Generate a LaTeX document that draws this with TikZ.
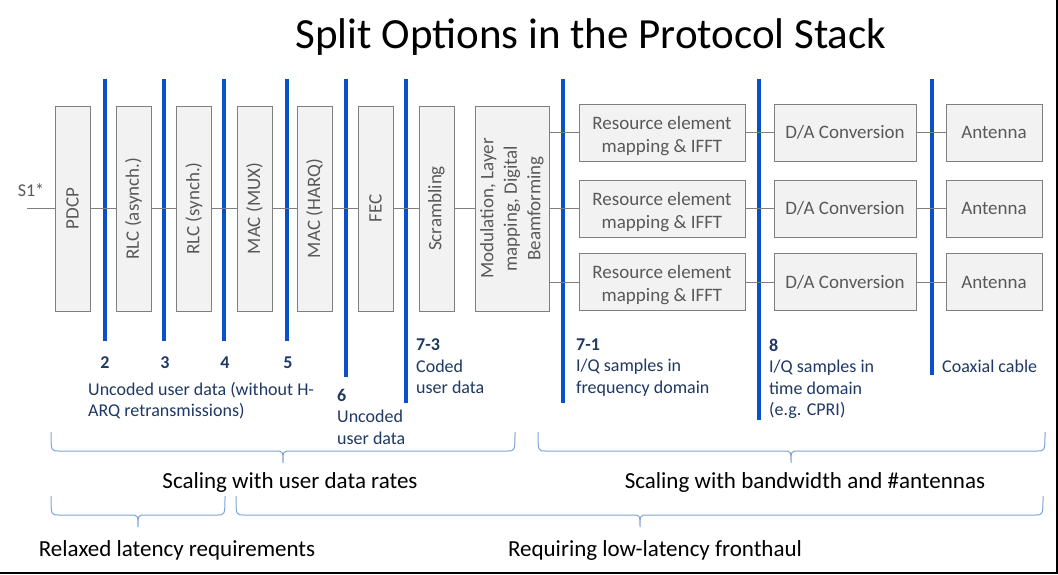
\documentclass[tikz,border=0pt]{standalone}
\usepackage{fontspec}
\setmainfont{Carlito}
\definecolor{boxfill}{RGB}{242,242,242}
\definecolor{boxdraw}{RGB}{127,127,127}
\definecolor{boxtext}{RGB}{89,89,89}
\definecolor{sepblue}{RGB}{10,80,200}
\definecolor{labblue}{RGB}{31,56,100}
\definecolor{bracecol}{RGB}{125,162,215}
\begin{document}
\begin{tikzpicture}[x=1pt,y=-1pt,
  vbox/.style={draw=boxdraw, fill=boxfill, line width=1pt, rotate=90, minimum width=205, minimum height=35, inner sep=0pt, font=\fontsize{19}{23.5}\selectfont, text=boxtext, align=center},
  hbox/.style={draw=boxdraw, fill=boxfill, line width=1pt, minimum height=57, inner sep=0pt, font=\fontsize{19}{23}\selectfont, text=boxtext, align=center},
  conn/.style={draw=boxdraw, line width=1pt},
  sep/.style={draw=sepblue, line width=3.5pt},
  lab/.style={text=labblue, font=\fontsize{18}{21.5}\selectfont, align=left, inner sep=0pt},
  num/.style={text=labblue, font=\fontsize{18}{21.5}\selectfont\bfseries, inner sep=0pt},
  brc/.style={draw=bracecol, line width=1pt},
  big/.style={font=\fontsize{23}{27}\selectfont, text=black, inner sep=0pt, anchor=base}
]
\useasboundingbox (0,0) rectangle (1058,574);
\fill[white] (0,0) rectangle (1058,574);
\draw[black, line width=1.5pt] (1057,0) -- (1057,573) -- (0,573);

% title
\node[font=\fontsize{43}{50}\selectfont, anchor=base, inner sep=0pt] (title) at (591,48) {Split Options in the Protocol Stack};

% separators
\draw[sep] (105,79) -- (105,341);
\draw[sep] (164,79) -- (164,341);
\draw[sep] (224,79) -- (224,341);
\draw[sep] (287,79) -- (287,341);
\draw[sep] (346,79) -- (346,377);
\draw[sep] (406,79) -- (406,403);
\draw[sep] (563,79) -- (563,403);
\draw[sep] (759,79) -- (759,420);
\draw[sep] (932,79) -- (932,375);

% input
\node[text=boxtext, font=\fontsize{18}{22}\selectfont, inner sep=0pt] (s1lab) at (31,190) {S1*};
\coordinate (s1) at (27,208.5);

% vertical boxes
\node[vbox] (pdcp) at (72.5,208.5) {PDCP};
\node[vbox] (rlca) at (133.5,208.5) {RLC (asynch.)};
\node[vbox] (rlcs) at (194,208.5) {RLC (synch.)};
\node[vbox] (mux) at (254.5,208.5) {MAC (MUX)};
\node[vbox] (harq) at (314.5,208.5) {MAC (HARQ)};
\node[vbox] (fec) at (375.5,208.5) {FEC};
\node[vbox] (scr) at (436.5,208.5) {Scrambling};
\node[vbox, minimum height=74] (mod) at (512,208.5) {Modulation, Layer\\mapping, Digital\\Beamforming};

% right boxes
\foreach \r/\y in {1/132.5, 2/208.5, 3/282} {
  \node[hbox, minimum width=166] (re\r) at (662,\y) {\rule{0pt}{20pt}Resource element\\mapping \& IFFT};
  \node[hbox, minimum width=142] (da\r) at (845,\y) {D/A Conversion};
  \node[hbox, minimum width=96] (ant\r) at (994,\y) {Antenna};
}

% connectors
\draw[conn] (s1) -- (pdcp);
\draw[conn] (pdcp) -- (rlca);
\draw[conn] (rlca) -- (rlcs);
\draw[conn] (rlcs) -- (mux);
\draw[conn] (mux) -- (harq);
\draw[conn] (harq) -- (fec);
\draw[conn] (fec) -- (scr);
\draw[conn] (scr) -- (mod);
\foreach \r in {1,2,3} {
  \draw[conn] (mod.south |- re\r.west) -- (re\r.west);
  \draw[conn] (re\r) -- (da\r);
  \draw[conn] (da\r) -- (ant\r);
}

% split labels
\node[num] (n2) at (105,363) {2};
\node[num] (n3) at (165,363) {3};
\node[num] (n4) at (225,363) {4};
\node[num] (n5) at (288,363) {5};
\node[lab, anchor=north west] (l25) at (88,382) {Uncoded user data (without H-\\ARQ retransmissions)};
\node[lab, anchor=north west] (l6) at (337,388.6) {\textbf{6}\\Uncoded\\user data};
\node[lab, anchor=north west] (l73) at (416,338.6) {\textbf{7-3}\\Coded\\user data};
\node[lab, anchor=north west] (l71) at (576,338.6) {\textbf{7-1}\\I/Q samples in\\frequency domain};
\node[lab, anchor=north west] (l8) at (769,338.6) {\textbf{8}\\I/Q samples in\\time domain\\(e.g. CPRI)};
\node[lab, anchor=base west] (lcx) at (942,372) {Coaxial cable};

% braces
\draw[brc] (51,432) .. controls (51,451) .. (59,451) -- (275,451) .. controls (283,451) .. (283,463)
  .. controls (283,451) .. (291,451) -- (507,451) .. controls (515,451) .. (515,432);
\draw[brc] (538,432) .. controls (538,451) .. (546,451) -- (783,451) .. controls (791,451) .. (791,463)
  .. controls (791,451) .. (799,451) -- (1037,451) .. controls (1045,451) .. (1045,432);
\draw[brc] (51,496) .. controls (51,515) .. (59,515) -- (130,515) .. controls (138,515) .. (138,527)
  .. controls (138,515) .. (146,515) -- (217,515) .. controls (225,515) .. (225,496);
\draw[brc] (236,496) .. controls (236,515) .. (244,515) -- (632,515) .. controls (640,515) .. (640,527)
  .. controls (640,515) .. (648,515) -- (1035,515) .. controls (1043,515) .. (1043,496);

% bottom texts
\node[big] (t1) at (290,488) {Scaling with user data rates};
\node[big] (t2) at (805,488) {Scaling with bandwidth and \#antennas};
\node[big] (t3) at (177,556) {Relaxed latency requirements};
\node[big] (t4) at (655,556) {Requiring low-latency fronthaul};
\end{tikzpicture}
\end{document}
